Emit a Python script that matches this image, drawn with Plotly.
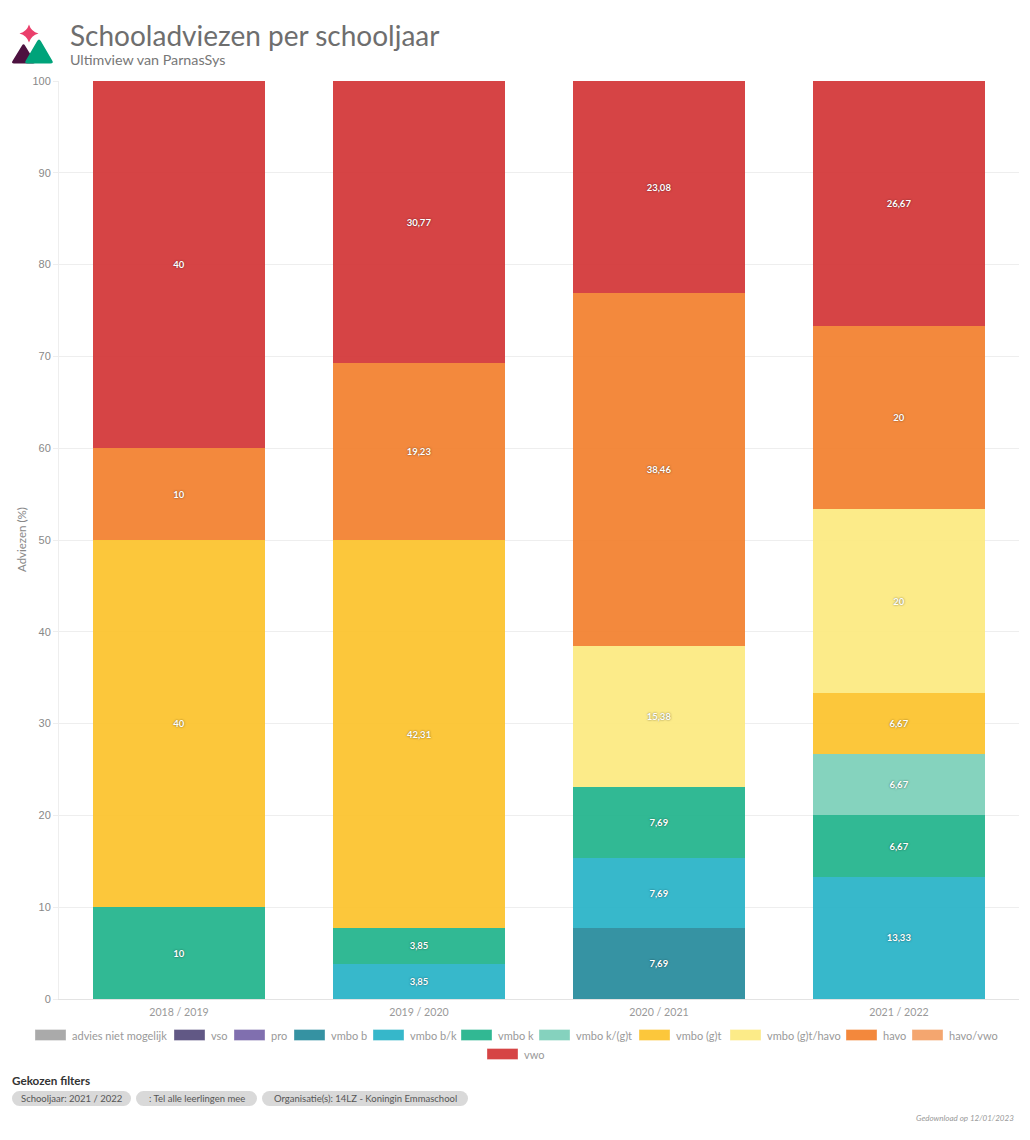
import plotly.graph_objects as go

# data
years = ["2018 / 2019", "2019 / 2020", "2020 / 2021", "2021 / 2022"]
advies_niet_mogelijk = [None, None, None, None]
vso = [None, None, None, None]
pro = [None, None, None, None]
vmbo_b = [None, None, 7.69, None]
vmbo_bk = [None, 3.85, 7.69, 13.33]
vmbo_k = [10, 3.85, 7.69, 6.67]
vmbo_kgt = [None, None, None, 6.67]
vmbo_gt = [40, 42.31, None, 6.67]
vmbo_gt_havo = [None, None, 15.38, 20]
havo = [10, 19.23, 38.46, 20]
havo_vwo = [None, None, None, None]
vwo = [40, 30.77, 23.08, 26.67]
y_ticks = [0, 10, 20, 30, 40, 50, 60, 70, 80, 90, 100]

series = [
    ("advies niet mogelijk", advies_niet_mogelijk, "#A1A1A1"),
    ("vso", vso, "#504678"),
    ("pro", pro, "#7360A7"),
    ("vmbo b", vmbo_b, "#208799"),
    ("vmbo b/k", vmbo_bk, "#21B0C5"),
    ("vmbo k", vmbo_k, "#1BB188"),
    ("vmbo k/(g)t", vmbo_kgt, "#78CEB7"),
    ("vmbo (g)t", vmbo_gt, "#FCC126"),
    ("vmbo (g)t/havo", vmbo_gt_havo, "#FCE97C"),
    ("havo", havo, "#F27C28"),
    ("havo/vwo", havo_vwo, "#F39D60"),
    ("vwo", vwo, "#D23031"),
]

# legend swatch left edge and row, in page pixels
legend_x = [35, 174, 234, 294, 373, 461, 539, 639, 730, 846, 912, 487]
legend_y = [1035] * 11 + [1054]

filters = [
    ("Schooljaar: 2021 / 2022", 12, 131),
    (": Tel alle leerlingen mee", 136, 257),
    ("Organisatie(s): 14LZ - Koningin Emmaschool", 262, 468),
]

W, H = 1030, 1140
FONT = "Lato"
EDGE = "rgba(255,255,255,0.35)"


def to_paper_x(x):
    return (x - 59) / (1019 - 59)


def to_paper_y(y):
    return (999 - y) / (999 - 81)


def note(x, y, text, size, color, anchor="left", **kwargs):
    return dict(
        x=to_paper_x(x), y=to_paper_y(y), xref="paper", yref="paper", text=text,
        showarrow=False, xanchor=anchor, yanchor="middle",
        font=dict(family=kwargs.pop("family", FONT), size=size, color=color),
        **kwargs,
    )


def pt(p):
    return f"{to_paper_x(p[0])},{to_paper_y(p[1])}"


def rounded(points, r=0.22):
    # closed path, every corner cut and bent back with a quadratic curve
    out = []
    n = len(points)
    for i, p in enumerate(points):
        a, b = points[i - 1], points[(i + 1) % n]
        start = (p[0] + (a[0] - p[0]) * r, p[1] + (a[1] - p[1]) * r)
        end = (p[0] + (b[0] - p[0]) * r, p[1] + (b[1] - p[1]) * r)
        out.append(("M" if i == 0 else "L") + pt(start) + " Q" + pt(p) + " " + pt(end))
    return " ".join(out) + " Z"


def star(cx, cy, rx, ry):
    # four points, sides pulled in towards the centre
    k = 0.22
    return (
        f"M{pt((cx, cy - ry))} Q{pt((cx + rx * k, cy - ry * k))} {pt((cx + rx, cy))} "
        f"Q{pt((cx + rx * k, cy + ry * k))} {pt((cx, cy + ry))} "
        f"Q{pt((cx - rx * k, cy + ry * k))} {pt((cx - rx, cy))} "
        f"Q{pt((cx - rx * k, cy - ry * k))} {pt((cx, cy - ry))} Z"
    )


fig = go.Figure()
for name, values, color in series:
    fig.add_trace(go.Bar(
        name=name, x=years, y=values,
        marker=dict(color=color, opacity=0.9, line=dict(width=0)),
        texttemplate="%{y}", textposition="inside", insidetextanchor="middle",
        textangle=0, constraintext="none",
        textfont=dict(family=FONT, size=9.5, weight="bold", color="white",
                      shadow="0 0 2px rgba(0,0,0,0.55)"),
    ))

annotations = [
    note(68, 35, "Schooladviezen per schooljaar", 28, "#6e6e6e"),
    note(68, 59, "Ultimview van ParnasSys", 14.3, "#777777"),
    note(21, 540, "Adviezen (%)", 11.5, "#888888", anchor="center", textangle=-90),
    note(10, 1080, "<b>Gekozen filters</b>", 11.7, "#333333"),
    note(1016, 1118, "<i>Gedownload op 12/01/2023</i>", 8, "#999999", anchor="right"),
]
shapes = [
    # logo
    dict(type="path", xref="paper", yref="paper", line_width=0, fillcolor="#4d1240",
         path=rounded([(11, 63.5), (23.5, 43), (36, 63.5)], 0.12)),
    dict(type="path", xref="paper", yref="paper", line_width=0, fillcolor="#00a37a",
         path=rounded([(24, 63.5), (39, 38), (54, 63.5)], 0.12)),
    dict(type="path", xref="paper", yref="paper", line_width=0, fillcolor="#ea3f6b",
         path=star(29, 33.5, 9.5, 9)),
]

# legend drawn by hand, the swatches are wider than plotly's own
for (name, _, color), lx, ly in zip(series, legend_x, legend_y):
    shapes.append(dict(
        type="rect", xref="paper", yref="paper", fillcolor=color, opacity=0.9,
        line=dict(color=EDGE, width=1),
        x0=to_paper_x(lx), x1=to_paper_x(lx + 31), y0=to_paper_y(ly - 5.5), y1=to_paper_y(ly + 5.5),
    ))
    annotations.append(note(lx + 34.5, ly, name, 11, "#999999"))

# filter pills
for label, x0, x1 in filters:
    shapes.append(dict(
        type="rect", xref="paper", yref="paper", fillcolor="#d9d9d9", line_width=0,
        x0=to_paper_x(x0 + 7), x1=to_paper_x(x1 - 7), y0=to_paper_y(1091), y1=to_paper_y(1106),
    ))
    for cx in (x0, x1 - 15):
        shapes.append(dict(
            type="circle", xref="paper", yref="paper", fillcolor="#d9d9d9", line_width=0,
            x0=to_paper_x(cx), x1=to_paper_x(cx + 15), y0=to_paper_y(1091), y1=to_paper_y(1106),
        ))
    annotations.append(note((x0 + x1) / 2, 1098.5, label, 9.5, "#555555", anchor="center"))

fig.update_layout(
    barmode="stack", bargap=0.28, separators=",.",
    width=W, height=H, showlegend=False,
    margin=dict(l=59, r=11, t=81, b=141, autoexpand=False),
    paper_bgcolor="white", plot_bgcolor="white",
    font=dict(family=FONT, color="#888888"),
    annotations=annotations, shapes=shapes,
    xaxis=dict(
        type="category", categoryorder="array", categoryarray=years,
        showgrid=False, showline=True, linecolor="#e3e3e3", linewidth=1,
        tickfont=dict(family=FONT, size=10.6, color="#999999"), ticks="", ticklabelstandoff=3,
    ),
    yaxis=dict(
        range=[0, 100], tickvals=y_ticks, gridcolor="#eeeeee", gridwidth=1, zeroline=False,
        showline=True, linecolor="#eeeeee", ticks="outside", tickcolor="#eeeeee", ticklen=5,
        tickfont=dict(family="Liberation Sans", size=11, color="#888888"),
    ),
)

fig.write_html("out.html", config={"displayModeBar": False},
               post_script="document.body.style.margin='0';")
